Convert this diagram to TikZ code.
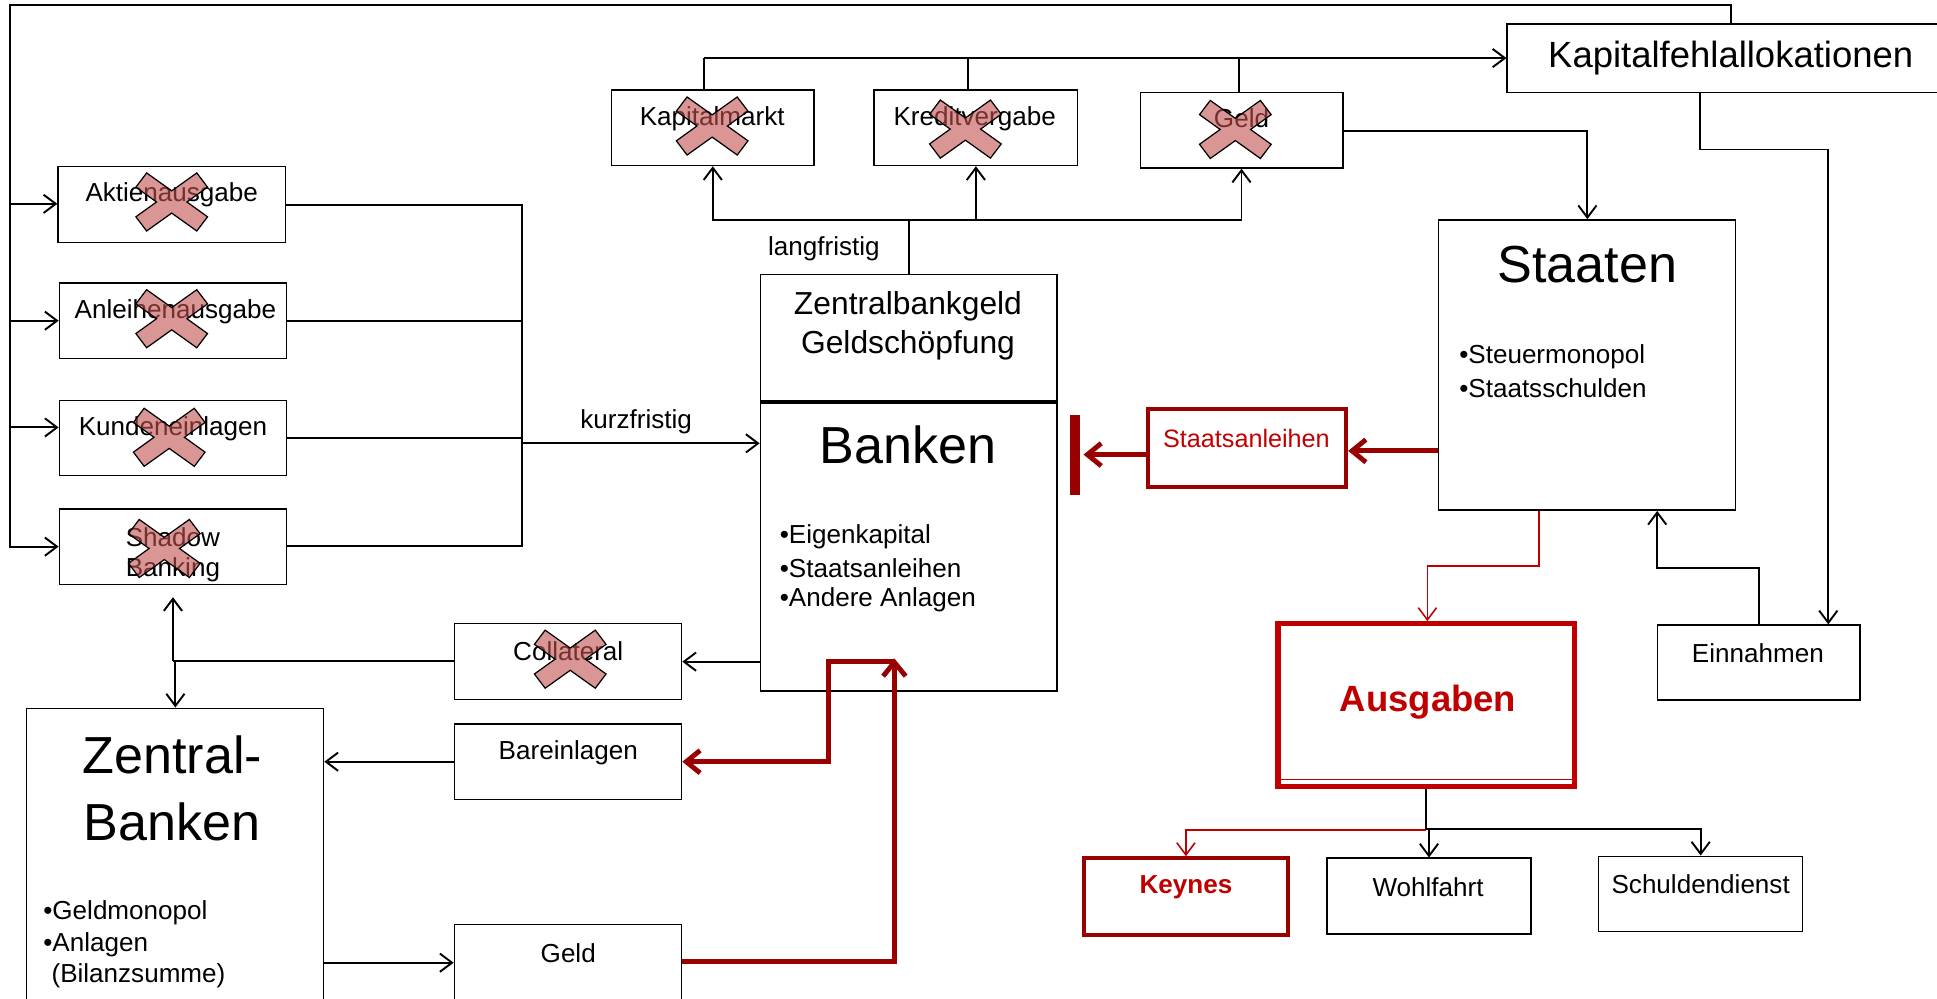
\documentclass[tikz,border=0pt]{standalone}
\usepackage{fontspec}
\setmainfont{Liberation Sans}
\usetikzlibrary{arrows.meta,fit}
\definecolor{dred}{HTML}{990000}
\definecolor{bred}{HTML}{C00000}
\definecolor{xred}{HTML}{C0504D}
\newcommand\xcross[2]{%
  \begin{scope}[shift={(#1,#2)}]
    \draw[line width=0.7pt, fill=xred, fill opacity=0.6, line join=miter]
      (-20.3,-23.5) -- (0,-9) -- (20.3,-23.5) -- (29,-12) -- (12.3,0) -- (29,12)
      -- (20.3,23.5) -- (0,9) -- (-20.3,23.5) -- (-29,12) -- (-12.3,0) -- (-29,-12) -- cycle;
  \end{scope}}
\tikzset{
  box/.style={draw=black, line width=0.8pt, inner sep=0pt},
  redbox/.style={draw=dred, line width=2.3pt, inner sep=0pt},
  conn/.style={draw=black, line width=1.1pt},
  arr/.style={conn, -{Straight Barb[length=7pt,width=10.5pt]}},
  rarr/.style={draw=dred, line width=2.8pt, -{Straight Barb[length=8pt,width=13pt]}},
  tred/.style={draw=bred, line width=0.9pt, -{Straight Barb[length=7pt,width=10.5pt]}},
  txt/.style={inner sep=0pt, font=\fontsize{15}{18}\selectfont},
  bigtxt/.style={inner sep=0pt, font=\fontsize{30}{36}\selectfont},
  midtxt/.style={inner sep=0pt, font=\fontsize{18.3}{22}\selectfont},
}
\begin{document}
\begin{tikzpicture}[x=0.025cm, y=-0.025cm]
\useasboundingbox (0,0) rectangle (1568,808);
\clip (0,0) rectangle (1568,808);
\fill[white] (0,0) rectangle (1568,808);

% ---------- boxes ----------
\node[box, fit={(1220,19.4) (1640,74.7)}] (kfa) {};
\node[inner sep=0pt, font=\fontsize{21}{25}\selectfont] (kfat) at (1401,47) {Kapitalfehlallokationen};

\node[box, fit={(495,73) (659,134)}] (kapm) {};
\node[txt] (kapmt) at (576.5,96) {Kapitalmarkt};
\node[box, fit={(707.5,73) (872,134)}] (kred) {};
\node[txt] (kredt) at (789,96) {Kreditvergabe};
\node[box, fit={(923,75) (1087,136)}] (geldt) {};
\node[txt] (geldtt) at (1005,96) {Geld};

\node[box, fit={(47,135) (231,196.5)}] (aktie) {};
\node[txt] (aktiet) at (139,158) {Aktienausgabe};
\node[box, fit={(48,229) (232,290)}] (anleihe) {};
\node[txt] (anleihet) at (142,252) {Anleihenausgabe};
\node[box, fit={(48,324) (232,385)}] (kunden) {};
\node[txt] (kundent) at (140,347) {Kundeneinlagen};
\node[box, fit={(48,412) (232,473)}] (shadow) {};
\node[txt] (shadowt1) at (140,434.5) {Shadow};
\node[txt] (shadowt2) at (140,461) {Banking};

\node[box, fit={(615.5,222) (855.5,326)}] (zbg) {};
\node[midtxt] (zbgt1) at (735,248) {Zentralbankgeld};
\node[midtxt] (zbgt2) at (735,279.5) {Geldschöpfung};
\node[box, fit={(615.5,326) (855.5,559.5)}] (banken) {};
\draw[line width=1.8pt] (banken.north west) -- (banken.north east);
\node[bigtxt] (bankent) at (735,360) {Banken};
\node[txt, anchor=west] (bk1) at (631,434.4) {•Eigenkapital};
\node[txt, anchor=west] (bk2) at (631,460) {•Staatsanleihen};
\node[txt, anchor=west] (bk3) at (631,485.7) {•Andere Anlagen};

\node[box, fit={(1164.7,178) (1405,413)}] (staaten) {};
\node[bigtxt] (staatent) at (1285,214.5) {Staaten};
\node[txt, anchor=west] (st1) at (1181,288.7) {•Steuermonopol};
\node[txt, anchor=west] (st2) at (1181,314) {•Staatsschulden};

\node[redbox, fit={(929.4,331.4) (1089.7,394.5)}] (staatsanl) {};
\node[inner sep=0pt, text=bred, font=\fontsize{14.5}{17}\selectfont] (staatsanlt) at (1009,354.7) {Staatsanleihen};
\node[fill=dred, inner sep=0pt, fit={(866,336) (874,401)}] (bar) {};

\node[box, fit={(1341.5,506) (1505.8,566.7)}] (einn) {};
\node[txt] (einnt) at (1423,529) {Einnahmen};

\node[draw=bred, line width=3pt, inner sep=0pt, fit={(1034.6,504.9) (1274.5,636.5)}] (ausg) {};
\draw[bred, line width=0.8pt] (1036.5,631) -- (1272.5,631);
\node[inner sep=0pt, text=bred, font=\bfseries\fontsize{21}{25}\selectfont] (ausgt) at (1156,568) {Ausgaben};

\node[redbox, fit={(877.5,694.7) (1042.3,757)}] (keynes) {};
\node[inner sep=0pt, text=bred, font=\bfseries\fontsize{15}{18}\selectfont] (keynest) at (960,718) {Keynes};
\node[box, fit={(1074.3,694.7) (1239.3,756.2)}] (wohl) {};
\node[txt] (wohlt) at (1156,718) {Wohlfahrt};
\node[box, fit={(1294.2,693.1) (1459,754.2)}] (schuld) {};
\node[txt] (schuldt) at (1376.7,716) {Schuldendienst};

\node[box, fit={(367.8,504.6) (551.8,566.1)}] (coll) {};
\node[txt] (collt) at (460,527.5) {Collateral};
\node[box, fit={(367.8,586) (551.8,647)}] (barein) {};
\node[txt] (bareint) at (460,609.3) {Bareinlagen};
\node[box, fit={(367.8,748.3) (551.8,840)}] (geldb) {};
\node[txt] (geldbt) at (460,771.7) {Geld};

\node[box, fit={(21.3,573.3) (262,840)}] (zb) {};
\node[bigtxt] (zbt1) at (139.5,611) {Zentral-};
\node[bigtxt] (zbt2) at (139.5,665) {Banken};
\node[txt, anchor=west] (zb1) at (34.8,738.5) {•Geldmonopol};
\node[txt, anchor=west] (zb2) at (34.8,764.4) {•Anlagen};
\node[txt, anchor=west] (zb3) at (41.5,789.8) {(Bilanzsumme)};

% ---------- crosses ----------
\xcross{139}{163.5}
\xcross{139}{258}
\xcross{137}{354}
\xcross{133}{444}
\xcross{576.5}{102}
\xcross{781.5}{104.5}
\xcross{1000}{104.8}
\xcross{461.6}{533.6}

% ---------- connectors ----------
\coordinate (t1) at (1401,4.3);
\coordinate (t2) at (8,4.3);
\coordinate (t3) at (8,442.5);
\draw[arr] (kfa.north -| t1) -- (t1) -- (t2) -- (t3) -- (t3 -| shadow.west);
\coordinate (la1) at (8,165);
\coordinate (la2) at (8,259.6);
\coordinate (la3) at (8,346);
\draw[arr] (la1) -- (la1 -| aktie.west);
\draw[arr] (la2) -- (la2 -| anleihe.west);
\draw[arr] (la3) -- (la3 -| kunden.west);

\coordinate (r1) at (422.8,165.7);
\coordinate (r2) at (422.8,259.6);
\coordinate (r3) at (422.8,354.8);
\coordinate (r4) at (422.8,441.7);
\coordinate (r5) at (422.8,358.9);
\draw[conn] (r1 -| aktie.east) -- (r1) -- (r4) -- (r4 -| shadow.east);
\draw[conn] (r2 -| anleihe.east) -- (r2);
\draw[conn] (r3 -| kunden.east) -- (r3);
\draw[arr] (r5) -- (r5 -| banken.west);
\node[txt] (kurz) at (515,341.4) {kurzfristig};

\coordinate (l0) at (735.5,178);
\coordinate (l1) at (577,178);
\coordinate (l2) at (790,178);
\coordinate (l3) at (1005,178);
\draw[conn] (zbg.north -| l0) -- (l0);
\draw[arr] (l0) -- (l1) -- (l1 |- kapm.south);
\draw[arr] (l2) -- (l2 |- kred.south);
\draw[arr] (l0) -- (l3) -- (l3 |- geldt.south);
\node[txt] (lang) at (667,201) {langfristig};

\coordinate (k1) at (570,47);
\coordinate (k2) at (783.5,47);
\coordinate (k3) at (1002.6,47);
\draw[conn] (kapm.north -| k1) -- (k1);
\draw[conn] (kred.north -| k2) -- (k2);
\draw[conn] (geldt.north -| k3) -- (k3);
\draw[arr] (k1) -- (k1 -| kfa.west);

\coordinate (g1) at (1285,105.8);
\draw[arr] (g1 -| geldt.east) -- (g1) -- (g1 |- staaten.north);

\coordinate (f1) at (1376,121);
\coordinate (f2) at (1480,121);
\draw[arr] (kfa.south -| f1) -- (f1) -- (f2) -- (f2 |- einn.north);

\coordinate (e1) at (1423.6,460);
\coordinate (e2) at (1341.5,460);
\draw[arr] (einn.north -| e1) -- (e1) -- (e2) -- (e2 |- staaten.south);

\coordinate (s1) at (1245.6,458);
\coordinate (s2) at (1155.5,458);
\draw[tred] (staaten.south -| s1) -- (s1) -- (s2) -- (s2 |- ausg.north);

\coordinate (a1) at (1162,365);
\draw[rarr] (staaten.west |- a1) -- (a1 -| staatsanl.east);
\coordinate (a2) at (900,368);
\draw[rarr, shorten >=2pt] (a2 -| staatsanl.west) -- (a2 -| bar.east);

\coordinate (u0) at (1154.4,671.3);
\coordinate (u1) at (1156.8,671.3);
\coordinate (u2) at (1376.7,671.3);
\coordinate (u0r) at (1154.4,672.1);
\coordinate (u3) at (960,672.1);
\draw[conn] (ausg.south -| u0) -- (u0);
\draw[arr] (u0) -- (u2) -- (u2 |- schuld.north);
\draw[arr] (u1) -- (u1 |- wohl.north);
\draw[tred] (u0r) -- (u3) -- (u3 |- keynes.north);

\coordinate (c1) at (600,535.6);
\coordinate (c2) at (140,535);
\coordinate (c3) at (142,535);
\draw[arr] (banken.west |- c1) -- (c1 -| coll.east);
\draw[conn] (coll.west |- c2) -- (c2);
\draw[arr, shorten >=7pt] (c2) -- (c2 |- shadow.south);
\draw[arr] (c3) -- (c3 |- zb.north);

\coordinate (b1) at (300,616.6);
\coordinate (b2) at (300,779.3);
\draw[arr] (barein.west |- b1) -- (b1 -| zb.east);
\draw[arr] (zb.east |- b2) -- (b2 -| geldb.west);

\coordinate (m1) at (724,778.5);
\coordinate (m2) at (724,533);
\draw[rarr] (geldb.east |- m1) -- (m1) -- (m2);
\coordinate (n0) at (724,535.6);
\coordinate (n1) at (670.5,535.6);
\coordinate (n2) at (670.5,616.6);
\draw[rarr] (n0) -- (n1) -- (n2) -- (n2 -| barein.east);
\end{tikzpicture}
\end{document}
